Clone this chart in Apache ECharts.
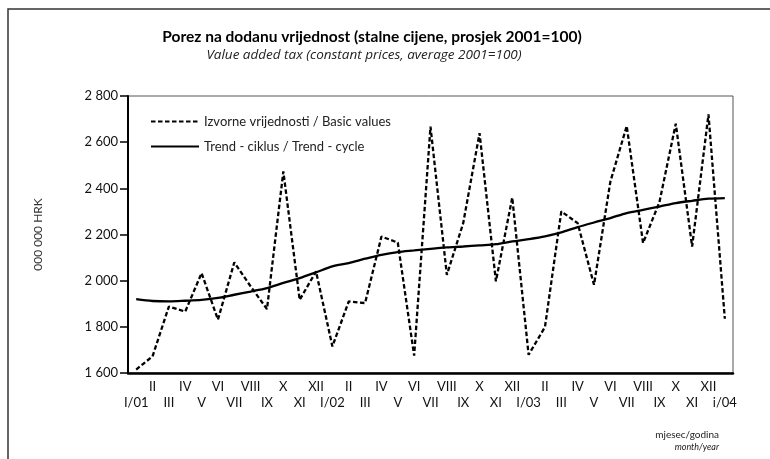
<!DOCTYPE html>
<html>
<head>
<meta charset="utf-8">
<script src="https://cdn.jsdelivr.net/npm/echarts@6/dist/echarts.min.js"></script>
<style>
  html, body { margin: 0; padding: 0; background: #fff; }
  #main { width: 770px; height: 459px; }
</style>
</head>
<body>
<div id="main"></div>
<script>
// months Jan 2001 .. Jan 2004
var months = ['I/01', 'II', 'III', 'IV', 'V', 'VI', 'VII', 'VIII', 'IX', 'X', 'XI', 'XII',
    'I/02', 'II', 'III', 'IV', 'V', 'VI', 'VII', 'VIII', 'IX', 'X', 'XI', 'XII',
    'I/03', 'II', 'III', 'IV', 'V', 'VI', 'VII', 'VIII', 'IX', 'X', 'XI', 'XII',
    'i/04'];

// Izvorne vrijednosti / Basic values
var basicValues = [1615, 1672, 1888, 1866, 2033, 1831, 2079, 1975, 1877, 2473, 1917, 2040,
    1715, 1910, 1903, 2191, 2165, 1675, 2667, 2025, 2249, 2639, 1997, 2360,
    1679, 1799, 2300, 2249, 1982, 2429, 2670, 2163, 2340, 2680, 2148, 2720,
    1835];

// Trend - ciklus / Trend - cycle
var trendCycle = [1920, 1912, 1910, 1913, 1917, 1925, 1939, 1953, 1968, 1990, 2011, 2036,
    2062, 2076, 2095, 2112, 2124, 2131, 2138, 2144, 2148, 2153, 2158, 2170,
    2180, 2192, 2209, 2232, 2252, 2271, 2293, 2307, 2321, 2336, 2346, 2355,
    2358];

var yTicks = [1600, 1800, 2000, 2200, 2400, 2600, 2800];

var font = 'Lato';
var myChart = echarts.init(document.getElementById('main'));

myChart.setOption({
    animation: false,
    textStyle: { fontFamily: font },
    graphic: [
        {   // outer frame
            type: 'polyline',
            shape: { points: [[8, 470], [8, 9], [780, 9]] },
            style: { stroke: '#333', lineWidth: 1.5, fill: null }
        },
        {
            type: 'text', x: 372, y: 37,
            style: {
                text: 'Porez na dodanu vrijednost (stalne cijene, prosjek 2001=100)',
                font: 'bold 15.5px ' + font, fill: '#000',
                textAlign: 'center', textVerticalAlign: 'middle'
            }
        },
        {
            type: 'text', x: 364, y: 55,
            style: {
                text: 'Value added tax (constant prices, average 2001=100)',
                font: 'italic 13.5px "Open Sans"', fill: '#222',
                textAlign: 'center', textVerticalAlign: 'middle'
            }
        },
        {
            type: 'text', x: 719, y: 435,
            style: {
                text: 'mjesec/godina', font: '10px ' + font, fill: '#222',
                textAlign: 'right', textVerticalAlign: 'middle'
            }
        },
        {
            type: 'text', x: 719, y: 447,
            style: {
                text: 'month/year', font: 'italic 9px ' + font, fill: '#222',
                textAlign: 'right', textVerticalAlign: 'middle'
            }
        }
    ],
    legend: {
        orient: 'vertical',
        left: 145,
        top: 110,
        itemWidth: 48,
        itemHeight: 14,
        itemGap: 12,
        itemStyle: { opacity: 0 },
        textStyle: { fontFamily: font, fontSize: 13, color: '#222' },
        data: ['Izvorne vrijednosti / Basic values', 'Trend - ciklus / Trend - cycle']
    },
    grid: {
        left: 128, right: 37, top: 96, bottom: 86,
        show: true, borderColor: '#555', borderWidth: 1
    },
    xAxis: {
        type: 'category',
        data: months,
        boundaryGap: true,
        axisLine: { lineStyle: { color: '#000', width: 2.5 } },
        axisTick: { show: false },
        axisLabel: {
            interval: 0,
            margin: 6,
            color: '#111',
            fontSize: 13,
            lineHeight: 16,
            formatter: function (v, i) {
                return i % 2 === 1 ? v : '\n' + v;
            }
        }
    },
    yAxis: {
        type: 'value',
        min: yTicks[0],
        max: yTicks[yTicks.length - 1],
        interval: 200,
        name: '000 000 HRK',
        nameLocation: 'middle',
        nameGap: 84,
        nameRotate: 90,
        nameTextStyle: { fontSize: 12, color: '#333', fontFamily: font },
        axisLine: { show: true, lineStyle: { color: '#000', width: 2 } },
        axisTick: { show: true, length: 8, lineStyle: { color: '#000', width: 1.5 } },
        splitLine: { show: false },
        axisLabel: {
            margin: 10,
            color: '#111',
            fontSize: 13,
            formatter: function (v) {
                return String(v).replace(/\B(?=(\d{3})+(?!\d))/g, ' ');
            }
        }
    },
    series: [
        {
            name: 'Izvorne vrijednosti / Basic values',
            type: 'line',
            data: basicValues,
            symbol: 'none',
            lineStyle: { color: '#000', width: 2.3, type: [4.5, 2.5] },
            itemStyle: { color: '#000' },
            z: 3
        },
        {
            name: 'Trend - ciklus / Trend - cycle',
            type: 'line',
            data: trendCycle,
            symbol: 'none',
            smooth: 0.3,
            lineStyle: { color: '#000', width: 2.3 },
            itemStyle: { color: '#000' },
            z: 2
        }
    ]
});
</script>
</body>
</html>
